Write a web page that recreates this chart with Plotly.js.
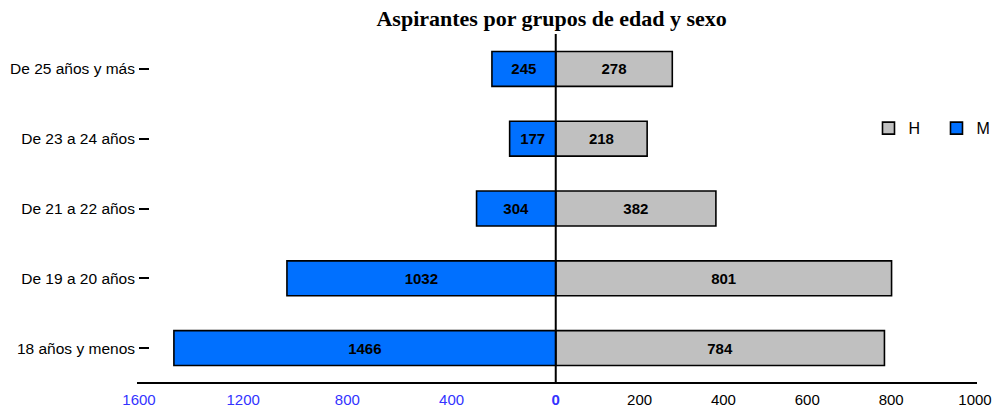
<!DOCTYPE html>
<html>
<head>
<meta charset="utf-8">
<script src="https://cdn.plot.ly/plotly-3.0.1.min.js"></script>
<style>html,body{margin:0;padding:0;background:#fff;}#chart{width:994px;height:412px;}</style>
</head>
<body>
<div id="chart"></div>
<script>
const categories = ["18 años y menos", "De 19 a 20 años", "De 21 a 22 años", "De 23 a 24 años", "De 25 años y más"];
const hombres = [784, 801, 382, 218, 278];
const mujeres = [1466, 1032, 304, 177, 245];
const leftTicks = [1600, 1200, 800, 400, 0];
const rightTicks = [200, 400, 600, 800, 1000];

const split = 0.4985;
const labelFont = {family: "Liberation Sans, Arial, sans-serif", size: 15, color: "#000", weight: "bold"};

const traceH = {
  type: "bar", orientation: "h", name: "H",
  y: categories, x: hombres, xaxis: "x2", yaxis: "y",
  width: 0.5,
  marker: {color: "#c0c0c0", line: {color: "#000", width: 1.6}},
  text: hombres.map(String), textposition: "inside", insidetextanchor: "middle",
  textfont: labelFont, constraintext: "none", hoverinfo: "skip"
};
const traceM = {
  type: "bar", orientation: "h", name: "M",
  y: categories, x: mujeres, xaxis: "x", yaxis: "y",
  width: 0.5,
  marker: {color: "#0070ff", line: {color: "#000", width: 1.6}},
  text: mujeres.map(String), textposition: "inside", insidetextanchor: "middle",
  textfont: labelFont, constraintext: "none", hoverinfo: "skip"
};

const layout = {
  width: 994, height: 412,
  margin: {l: 139, r: 19, t: 34, b: 29, autoexpand: false},
  paper_bgcolor: "#fff", plot_bgcolor: "#fff",
  showlegend: true,
  barmode: "overlay",
  title: {
    text: "Aspirantes por grupos de edad y sexo",
    font: {family: "Liberation Serif, Times New Roman, serif", size: 22, color: "#000", weight: "bold"},
    x: 0.555, xanchor: "center", xref: "container",
    y: 0.956, yanchor: "middle", yref: "container"
  },
  xaxis: {
    domain: [0, split], range: [1600, 0], anchor: "y",
    tickmode: "array", tickvals: leftTicks, ticktext: leftTicks.map(v => v === 0 ? "<b>0</b>" : String(v)),
    tickfont: {family: "Liberation Sans, Arial, sans-serif", size: 15, color: "#3333ff"},
    ticklabelstandoff: 6,
    showgrid: false, zeroline: false, showline: false, ticks: "",
    fixedrange: true
  },
  xaxis2: {
    domain: [split, 1], range: [0, 1000], anchor: "y",
    tickmode: "array", tickvals: rightTicks, ticktext: rightTicks.map(String),
    tickfont: {family: "Liberation Sans, Arial, sans-serif", size: 15, color: "#000"},
    ticklabelstandoff: 6,
    showgrid: false, zeroline: false, showline: false, ticks: "",
    fixedrange: true
  },
  yaxis: {
    anchor: "x", side: "left", range: [-0.5, 4.5],
    type: "category", categoryorder: "array", categoryarray: categories,
    ticks: "inside", ticklen: 10, tickwidth: 2, tickcolor: "#000",
    ticklabelstandoff: 3,
    tickfont: {family: "Liberation Sans, Arial, sans-serif", size: 15.5, color: "#000"},
    showgrid: false, zeroline: false, showline: false, fixedrange: true
  },
  legend: {
    orientation: "h", x: 0.8726, xanchor: "left", y: 0.73, yanchor: "middle",
    entrywidth: 23, entrywidthmode: "pixels",
    font: {family: "Liberation Sans, Arial, sans-serif", size: 16, color: "#000"},
    bgcolor: "rgba(0,0,0,0)", traceorder: "normal"
  },
  shapes: [
    {type: "line", xref: "paper", yref: "paper", x0: -0.0024, x1: 1.0024, y0: 0, y1: 0, line: {color: "#000", width: 2}},
    {type: "line", xref: "paper", yref: "paper", x0: split, x1: split, y0: 0, y1: 1, line: {color: "#000", width: 2}}
  ]
};

Plotly.newPlot("chart", [traceH, traceM], layout, {displayModeBar: false, staticPlot: true});
</script>
</body>
</html>
